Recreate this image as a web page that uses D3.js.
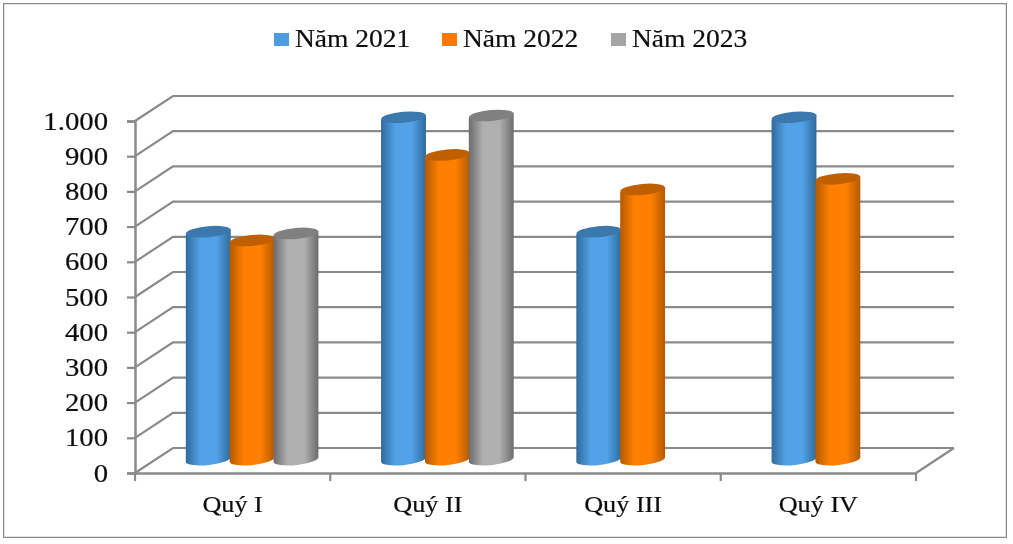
<!DOCTYPE html>
<html>
<head>
<meta charset="utf-8">
<script src="https://cdn.jsdelivr.net/npm/d3@7"></script>
<style>
  html, body { margin: 0; padding: 0; background: #fff; }
  svg { display: block; }
  text { font-family: "Liberation Serif", "Times New Roman", serif; fill: #111; stroke: #111; stroke-width: 0.2px; }
</style>
</head>
<body>
<div id="chart"></div>
<script>
// Values.
var quarters = ['Quý I', 'Quý II', 'Quý III', 'Quý IV'];
var seriesNames = ['Năm 2021', 'Năm 2022', 'Năm 2023'];
var values2021 = [650, 975, 650, 975];
var values2022 = [625, 868, 770, 800];
var values2023 = [645, 980, null, null];
var yTicks = [0, 100, 200, 300, 400, 500, 600, 700, 800, 900, 1000];

var seriesValues = [values2021, values2022, values2023];
var faceColours = [
    {edge: '#2f6a9c', mid: '#52a2e8', top: '#3a78ad', key: '#4f9bdf'},
    {edge: '#b45a00', mid: '#ff8000', top: '#c05f00', key: '#ff7800'},
    {edge: '#6c6c6c', mid: '#b0b0b0', top: '#808080', key: '#a5a5a5'}
];

var width = 1013, height = 544;
// Depth of the 3D floor, in pixels.
var depthX = 38, depthY = -25;

var svg = d3.select('#chart').append('svg')
    .attr('width', width)
    .attr('height', height);

var defs = svg.append('defs');
defs.append('filter').attr('id', 'soft')
    .attr('x', 0).attr('y', 0).attr('width', 1).attr('height', 1)
    .append('feGaussianBlur').attr('stdDeviation', 0.6);

faceColours.forEach(function(c, i) {
    var grad = defs.append('linearGradient').attr('id', 'body' + i);
    grad.append('stop').attr('offset', '0%').attr('stop-color', c.edge);
    grad.append('stop').attr('offset', '32%').attr('stop-color', c.mid);
    grad.append('stop').attr('offset', '68%').attr('stop-color', c.mid);
    grad.append('stop').attr('offset', '100%').attr('stop-color', c.edge);
});

var root = svg.append('g').attr('filter', 'url(#soft)');

// Outer frame.
root.append('rect')
    .attr('x', 3).attr('y', 3)
    .attr('width', 1004).attr('height', 535)
    .attr('fill', '#fff')
    .attr('stroke', '#8a8a8a')
    .attr('stroke-width', 2.5);

var x = d3.scaleBand().domain(quarters).range([135, 916]);
var y = d3.scaleLinear().domain([0, 1000]).range([473, 121]);
var seriesScale = d3.scaleBand().domain(d3.range(3))
    .range([x.bandwidth() * 0.163, x.bandwidth() * 0.837]);

var gridColour = '#8a8a8a';

// Grid lines: diagonal across the side wall, then along the back wall.
root.append('g').selectAll('path')
    .data(yTicks)
    .join('path')
    .attr('d', function(d) {
        var p = d3.path();
        p.moveTo(135, y(d));
        p.lineTo(135 + depthX, y(d) + depthY);
        p.lineTo(916 + depthX, y(d) + depthY);
        return p.toString();
    })
    .attr('fill', 'none')
    .attr('stroke', gridColour)
    .attr('stroke-width', 2.2);

// Floor edge on the right.
root.append('line')
    .attr('x1', 916).attr('y1', y(0))
    .attr('x2', 916 + depthX).attr('y2', y(0) + depthY)
    .attr('stroke', gridColour)
    .attr('stroke-width', 2.2);

// Axes.
var yAxis = d3.axisLeft(y)
    .tickValues(yTicks)
    .tickSize(8)
    .tickPadding(18)
    .tickFormat(function(d) { return d === 1000 ? '1.000' : String(d); });
var yGroup = root.append('g')
    .attr('transform', 'translate(135,0)')
    .call(yAxis);

var xAxis = d3.axisBottom(x).tickSize(0).tickPadding(22);
var xGroup = root.append('g')
    .attr('transform', 'translate(0,' + y(0) + ')')
    .call(xAxis);

// Band edges get the tick marks, not the band centres.
xGroup.selectAll('.edge')
    .data([135].concat(quarters.map(function(q) { return x(q) + x.bandwidth(); })))
    .join('line')
    .attr('class', 'edge')
    .attr('x1', function(d) { return d; })
    .attr('x2', function(d) { return d; })
    .attr('y1', 0).attr('y2', 8)
    .attr('stroke', gridColour)
    .attr('stroke-width', 2.2);

[yGroup, xGroup].forEach(function(g) {
    g.selectAll('.domain').attr('stroke', gridColour).attr('stroke-width', 2.5);
    g.selectAll('.tick line').attr('stroke', gridColour).attr('stroke-width', 2.2);
});

// The source picture is stretched sideways, so the text is too.
yGroup.selectAll('.tick text')
    .attr('font-size', 25)
    .attr('x', 0)
    .attr('text-anchor', 'end')
    .attr('transform', 'translate(-27,0) scale(1.15,1)');
xGroup.selectAll('.tick text')
    .attr('font-size', 23)
    .attr('y', 0)
    .attr('dy', 0)
    .attr('text-anchor', 'middle')
    .attr('transform', 'translate(0,39) scale(1.14,1)');

// Cylinders, drawn series by series so later ones overlap earlier ones.
var tilt = 2.5, ry = 5.5;
var bars = [];
seriesValues.forEach(function(vals, s) {
    vals.forEach(function(v, q) {
        if (v !== null) bars.push({series: s, quarter: quarters[q], value: v});
    });
});

var barGroups = root.append('g').selectAll('g')
    .data(bars)
    .join('g')
    .attr('transform', 'translate(' + depthX / 2 + ',' + depthY / 2 + ')');

function barLeft(d) { return x(d.quarter) + seriesScale(d.series); }

barGroups.append('path')
    .attr('d', function(d) {
        var l = barLeft(d), r = l + seriesScale.bandwidth() + 1;
        var rx = (r - l) / 2;
        var top = y(d.value), bottom = y(0) - 1;
        return 'M' + l + ',' + (top + tilt) +
            'L' + l + ',' + (bottom + tilt) +
            'A' + rx + ',' + ry + ' -6 0 0 ' + r + ',' + (bottom - tilt) +
            'L' + r + ',' + (top - tilt) + 'Z';
    })
    .attr('fill', function(d) { return 'url(#body' + d.series + ')'; });

barGroups.append('ellipse')
    .attr('cx', function(d) { return barLeft(d) + seriesScale.bandwidth() / 2 + 0.5; })
    .attr('cy', function(d) { return y(d.value); })
    .attr('rx', seriesScale.bandwidth() / 2 + 0.5)
    .attr('ry', ry)
    .attr('transform', function(d) {
        return 'rotate(-5,' + (barLeft(d) + seriesScale.bandwidth() / 2) + ',' + y(d.value) + ')';
    })
    .attr('fill', function(d) { return faceColours[d.series].top; });

// Legend.
var legendX = d3.scaleOrdinal().domain(seriesNames).range([274, 442, 611]);
var legend = root.append('g').selectAll('g')
    .data(seriesNames)
    .join('g')
    .attr('transform', function(d) { return 'translate(' + legendX(d) + ',33)'; });
legend.append('rect')
    .attr('width', 15).attr('height', 13)
    .attr('fill', function(d, i) { return faceColours[i].key; });
legend.append('text')
    .attr('font-size', 25)
    .attr('transform', 'translate(21,14) scale(1.1,1)')
    .text(function(d) { return d; });
</script>
</body>
</html>
